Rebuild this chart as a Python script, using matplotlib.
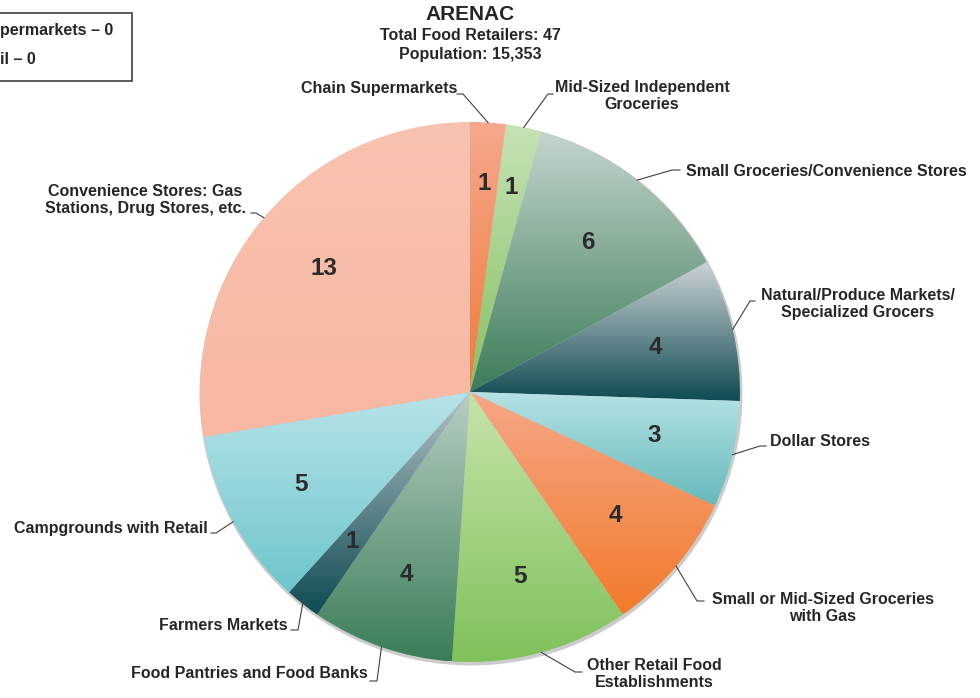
import numpy as np
import matplotlib
matplotlib.use("Agg")
import matplotlib.pyplot as plt
from matplotlib.colors import to_rgb
from matplotlib.patches import Circle, Rectangle

plt.rcParams['font.family'] = ['Liberation Sans', 'DejaVu Sans']

# data
categories = ["Chain Supermarkets", "Mid-Sized Independent\nGroceries",
              "Small Groceries/Convenience Stores",
              "Natural/Produce Markets/\nSpecialized Grocers", "Dollar Stores",
              "Small or Mid-Sized Groceries\nwith Gas",
              "Other Retail Food\nEstablishments", "Food Pantries and Food Banks",
              "Farmers Markets", "Campgrounds with Retail",
              "Convenience Stores: Gas\nStations, Drug Stores, etc."]
counts = [1, 1, 6, 4, 3, 4, 5, 4, 1, 5, 13]
# legend box is cut at the left edge in the original, only these parts show
legend_lines = ["permarkets \u2013 0", "il \u2013 0"]
title_lines = ["ARENAC", "Total Food Retailers: 47", "Population: 15,353"]

# gradient colours (top, bottom) per slice
grad = [("#F6A88E", "#EE7B3B"), ("#C6E2B5", "#86C064"), ("#C5D5CD", "#3C7C58"),
        ("#CDD3D6", "#0F4A52"), ("#B5E2E4", "#66B9BA"), ("#F6A788", "#F27A2A"),
        ("#C8E3AA", "#7FC15B"), ("#B9CFC4", "#3A7D57"), ("#B3C3C8", "#0F4A52"),
        ("#B7E3E8", "#6EC6CB"), ("#F9C3B1", "#F7B7A2")]

W, H = 980, 698
cx, cy, R = 470, 392, 270
py = lambda y: H - y   # pixel row -> data y

# label layout: text pos, ha, elbow point, line end near text
lab = [
    ((457, 88), 'right', (463, 94), (457, 94)),
    ((642, 96), 'center', (548, 94), (553, 94)),
    ((686, 171), 'left', (672, 170), (680, 170)),
    ((858, 304), 'center', (750, 301), (755, 301)),
    ((770, 441), 'left', (760, 446), (766, 446)),
    ((823, 608), 'center', (697, 601), (704, 601)),
    ((654, 674), 'center', (575, 672), (582, 672)),
    ((368, 674), 'right', (377, 681), (370, 681)),
    ((288, 625), 'right', (298, 630), (291, 630)),
    ((208, 528), 'right', (216, 533), (211, 533)),
    ((145, 200), 'center', (256, 213), (251, 213)),
]
num_r = [209, 209, 191, 191, 189, 191, 191, 193, 190, 193, 191]

fig = plt.figure(figsize=(9.8, 6.98), dpi=100)
ax = fig.add_axes([0, 0, 1, 1])

# soft shadow
ax.add_patch(Circle((cx + 1, py(cy) - 2), R + 1.5, color="#9a9a9a", alpha=0.5, lw=0, zorder=0))

wedges, _ = ax.pie(counts, startangle=90, counterclock=False, radius=R,
                   center=(cx, py(cy)), frame=True,
                   wedgeprops=dict(linewidth=0))
ax.set_xlim(0, W)
ax.set_ylim(0, H)
ax.set_aspect('equal')
ax.axis('off')

for w, (c1, c2) in zip(wedges, grad):
    w.set_facecolor('none')
    ext = w.get_path().get_extents()
    t = np.linspace(0, 1, 256)[:, None, None]
    img = (1 - t) * np.array(to_rgb(c1)) + t * np.array(to_rgb(c2))
    im = ax.imshow(img, extent=(ext.x0, ext.x1, ext.y0, ext.y1), origin='upper',
                   aspect='auto', interpolation='bilinear', zorder=1)
    im.set_clip_path(w)

total = sum(counts)
cum = np.cumsum([0] + counts)
for i, (name, v) in enumerate(zip(categories, counts)):
    mid = np.deg2rad((cum[i] + v / 2) / total * 360)
    ex, ey = cx + R * np.sin(mid), cy - R * np.cos(mid)
    nx, ny = cx + num_r[i] * np.sin(mid), cy - num_r[i] * np.cos(mid)
    ax.text(nx, py(ny), str(v), ha='center', va='center', fontsize=17.5,
            fontweight='bold', color='#2b2b2b', zorder=3)
    (tx, ty), ha, (bx, by), (lx, ly) = lab[i]
    ax.plot([ex, bx, lx], [py(ey), py(by), py(ly)], color='#404040', lw=0.8,
            zorder=2, solid_joinstyle='miter')
    ax.text(tx, py(ty), name, ha=ha, va='center', fontsize=11.5, fontweight='bold',
            color='#262626', linespacing=1.22, zorder=3)

# title
for txt, y, fs in zip(title_lines, [14, 35, 55], [15, 11.5, 11.5]):
    ax.text(cx, py(y), txt, ha='center', va='center', fontsize=fs,
            fontweight='bold', color='#262626')

# clipped legend box at top-left
ax.add_patch(Rectangle((-5, py(81)), 137, 68, facecolor='white',
                       edgecolor='#404040', lw=1.2, zorder=1))
for txt, y in zip(legend_lines, [30, 60]):
    ax.text(0, py(y), txt, ha='left', va='center', fontsize=11.5,
            fontweight='bold', color='#262626')

fig.savefig("out.png", dpi=100, facecolor='white')
